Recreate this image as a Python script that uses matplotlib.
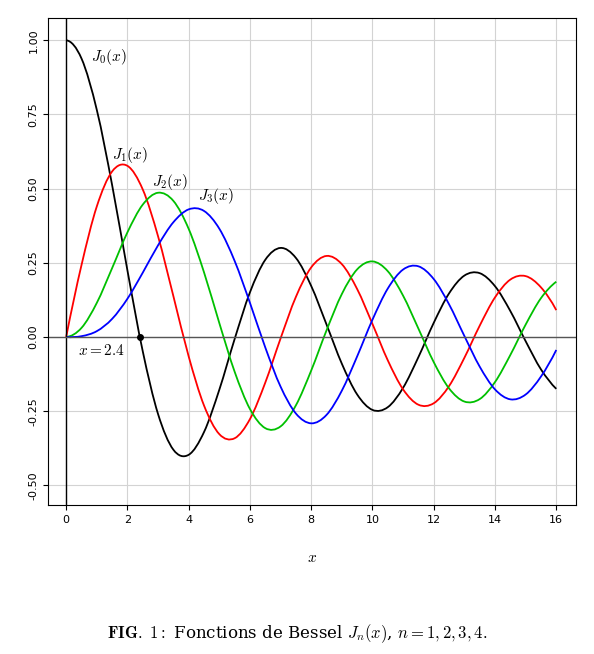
import matplotlib
matplotlib.use('Agg')
import matplotlib.pyplot as plt
from matplotlib.path import Path
from matplotlib.patches import PathPatch

plt.rcParams['mathtext.fontset'] = 'cm'

# tabulated Bessel values read at step 0.5 on [0, 16]
x = [i * 0.5 for i in range(33)]
j0 = [1.0, 0.9385, 0.7652, 0.5118, 0.2239, -0.0484, -0.2601, -0.3801, -0.3971, -0.3205,
      -0.1776, -0.0068, 0.1506, 0.2601, 0.3001, 0.2663, 0.1717, 0.0419, -0.0903, -0.1939,
      -0.2459, -0.2366, -0.1712, -0.0677, 0.0477, 0.1469, 0.2069, 0.2150, 0.1711, 0.0875,
      -0.0142, -0.1092, -0.1749]
j1 = [0.0, 0.2423, 0.4401, 0.5579, 0.5767, 0.4971, 0.3391, 0.1374, -0.0660, -0.2311,
      -0.3276, -0.3414, -0.2767, -0.1538, -0.0047, 0.1352, 0.2346, 0.2731, 0.2453, 0.1613,
      0.0435, -0.0789, -0.1768, -0.2284, -0.2234, -0.1655, -0.0703, 0.0380, 0.1334, 0.1934,
      0.2051, 0.1672, 0.0904]
j2 = [0.0, 0.0306, 0.1149, 0.2321, 0.3528, 0.4461, 0.4861, 0.4586, 0.3641, 0.2178,
      0.0466, -0.1173, -0.2429, -0.3074, -0.3014, -0.2303, -0.1130, 0.0223, 0.1448, 0.2279,
      0.2546, 0.2216, 0.1390, 0.0280, -0.0849, -0.1734, -0.2177, -0.2094, -0.1520, -0.0608,
      0.0416, 0.1307, 0.1862]
j3 = [0.0, 0.0026, 0.0196, 0.0610, 0.1289, 0.2167, 0.3091, 0.3868, 0.4301, 0.4247,
      0.3648, 0.2561, 0.1148, -0.0354, -0.1676, -0.2581, -0.2911, -0.2626, -0.1809, -0.0653,
      0.0584, 0.1633, 0.2273, 0.2381, 0.1951, 0.1100, 0.0033, -0.1000, -0.1768, -0.2102,
      -0.1940, -0.1335, -0.0438]
series = [j0, j1, j2, j3]
colors = ['black', 'red', '#00c000', 'blue']
labels = [r'$J_0(x)$', r'$J_1(x)$', r'$J_2(x)$', r'$J_3(x)$']
label_pos = [(0.8, 0.93), (1.5, 0.6), (2.8, 0.51), (4.3, 0.46)]
zero_x = 2.4


def smooth_path(xs, ys):
    # Catmull-Rom style cubic Beziers through the tabulated points
    n = len(xs)
    h = xs[1] - xs[0]
    slopes = []
    for i in range(n):
        if i == 0:
            s = (-3 * ys[0] + 4 * ys[1] - ys[2]) / (2 * h)
        elif i == n - 1:
            s = (3 * ys[-1] - 4 * ys[-2] + ys[-3]) / (2 * h)
        else:
            s = (ys[i + 1] - ys[i - 1]) / (2 * h)
        slopes.append(s)
    verts = [(xs[0], ys[0])]
    codes = [Path.MOVETO]
    for i in range(n - 1):
        c1 = (xs[i] + h / 3, ys[i] + slopes[i] * h / 3)
        c2 = (xs[i + 1] - h / 3, ys[i + 1] - slopes[i + 1] * h / 3)
        verts += [c1, c2, (xs[i + 1], ys[i + 1])]
        codes += [Path.CURVE4] * 3
    return Path(verts, codes)


fig = plt.figure(figsize=(5.94, 6.54), dpi=100)
ax = fig.add_axes([0.081, 0.228, 0.889, 0.744])
ax.set_xlim(-0.59, 16.65)
ax.set_ylim(-0.566, 1.074)
ax.grid(True, color='#d3d3d3', linewidth=0.8)
ax.set_axisbelow(True)
ax.axvline(0, color='black', linewidth=1)
ax.axhline(0, color='#555555', linewidth=1)

for ys, c in zip(series, colors):
    ax.add_patch(PathPatch(smooth_path(x, ys), facecolor='none', edgecolor=c, linewidth=1.3))
for lab, (lx, ly) in zip(labels, label_pos):
    ax.text(lx, ly, lab, fontsize=11)

ax.plot([zero_x], [0], 'o', color='black', markersize=4)
ax.text(0.4, -0.06, r'$x = 2.4$', fontsize=11)

ax.set_xticks(range(0, 17, 2))
ax.set_yticks([-0.5, -0.25, 0, 0.25, 0.5, 0.75, 1.0])
ax.set_yticklabels(['-0.50', '-0.25', '0.00', '0.25', '0.50', '0.75', '1.00'], rotation=90, va='center')
ax.tick_params(labelsize=8)
ax.set_xlabel(r'$x$', fontsize=11, labelpad=18)

fig.text(0.5, 0.025, r'$\mathbf{FIG.\ 1:}$ Fonctions de Bessel $J_n(x)$, $n = 1, 2, 3, 4.$',
         ha='center', fontsize=12, family='DejaVu Serif')

fig.savefig('out.png', dpi=100)
